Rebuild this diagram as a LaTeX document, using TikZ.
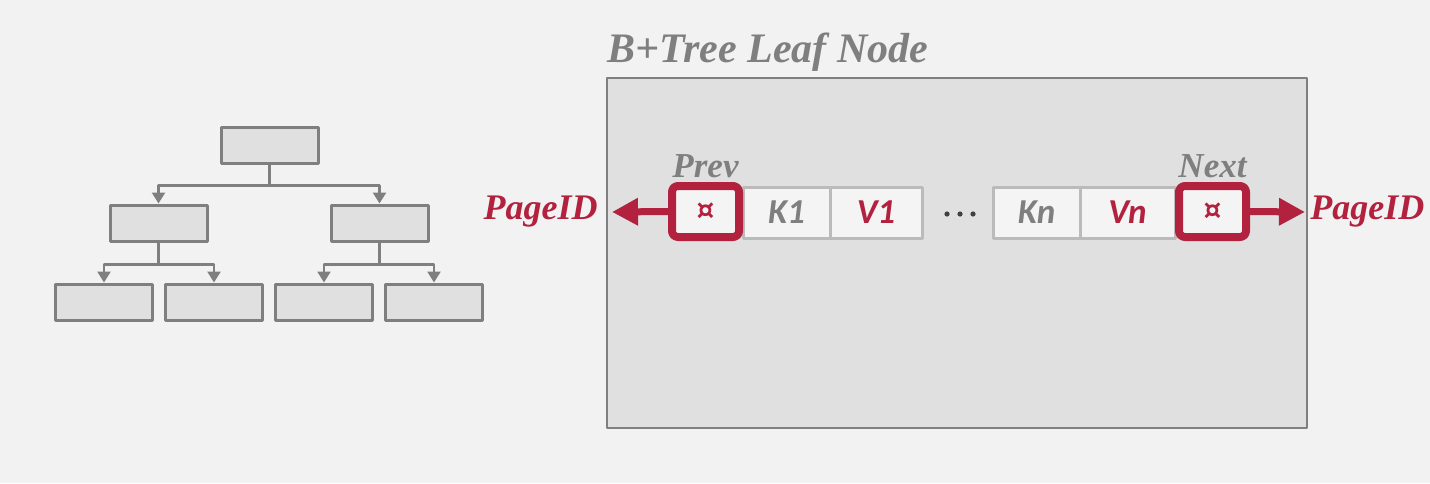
\documentclass[tikz,border=0pt]{standalone}
\usepackage{fontspec}
\setmainfont{Liberation Serif}
\newfontfamily\cellfont{Carlito}
\newfontfamily\symfont{DejaVu Sans}
\usetikzlibrary{arrows.meta}
\definecolor{bg}{HTML}{F2F2F2}
\definecolor{boxfill}{HTML}{E0E0E0}
\definecolor{cellfill}{HTML}{F4F4F4}
\definecolor{lgray}{HTML}{7F7F7F}
\definecolor{cellgray}{HTML}{BBBBBB}
\definecolor{dotgray}{HTML}{404040}
\definecolor{dbred}{HTML}{B2223F}
\tikzset{
  tbox/.style={draw=lgray, fill=boxfill, line width=1.5pt, minimum width=48.5pt, minimum height=18pt, inner sep=0pt},
  tline/.style={draw=lgray, line width=1.2pt, -{Triangle[width=6.5pt,length=5.5pt]}},
  cell/.style={draw=cellgray, fill=cellfill, line width=1.5pt, minimum height=25.5pt, inner sep=0pt, font=\cellfont\bfseries\itshape\fontsize{17.5}{20}\selectfont},
  ptrbox/.style={draw=dbred, fill=cellfill, line width=4pt, rounded corners=3pt, minimum width=33.5pt, minimum height=25.5pt, inner sep=0pt, text=dbred, font=\symfont\bfseries\fontsize{14}{15}\selectfont},
  ptrarrow/.style={draw=dbred, line width=3.5pt, -{Triangle[width=13pt,length=13pt]}},
  redlabel/.style={text=dbred, inner sep=0pt, font=\bfseries\itshape\fontsize{18}{22}\selectfont},
  graylabel/.style={text=lgray, inner sep=0pt, font=\bfseries\itshape\fontsize{17.5}{20}\selectfont}
}
\begin{document}
\begin{tikzpicture}[x=0.5pt, y=-0.5pt, line join=round]
  % background
  \fill[bg] (0,0) rectangle (1430,483);

  % small b+tree
  \node[tbox] (root) at (269.5,145) {};
  \node[tbox] (ml) at (158.5,223) {};
  \node[tbox] (mr) at (379.5,223) {};
  \node[tbox] (l1) at (104,302) {};
  \node[tbox] (l2) at (214,302) {};
  \node[tbox] (l3) at (324,302) {};
  \node[tbox] (l4) at (434,302) {};
  \draw[tline] (root.south) -- ++(0,21) -| (ml.north);
  \draw[tline] (root.south) -- ++(0,21) -| (mr.north);
  \draw[tline] (ml.south) -- ++(0,22) -| (l1.north);
  \draw[tline] (ml.south) -- ++(0,22) -| (l2.north);
  \draw[tline] (mr.south) -- ++(0,22) -| (l3.north);
  \draw[tline] (mr.south) -- ++(0,22) -| (l4.north);

  % leaf node
  \node[draw=lgray, fill=boxfill, line width=1pt, minimum width=350pt, minimum height=175pt, inner sep=0pt] (leaf) at (957,253) {};
  \node[anchor=base west, text=lgray, inner sep=0pt, font=\bfseries\itshape\fontsize{21}{25}\selectfont] (title) at (607,62) {B+Tree Leaf Node};

  \node[cell, minimum width=43.5pt, text=lgray] (k1) at (786.5,212.5) {K1};
  \node[cell, minimum width=46pt, text=dbred] (v1) at (876,212.5) {V1};
  \node[cell, minimum width=43.5pt, text=lgray] (kn) at (1036.5,212.5) {Kn};
  \node[cell, minimum width=47.5pt, text=dbred] (vn) at (1127.5,212.5) {Vn};
  \foreach \d in {947,960,973}
    \fill[dotgray] (\d,214) circle (2.6);

  \node[ptrbox] (prev) at (705.5,211.5) {¤};
  \node[ptrbox] (next) at (1212.5,211.5) {¤};
  \node[graylabel, anchor=base] (prevlbl) at (705.5,177) {Prev};
  \node[graylabel, anchor=base] (nextlbl) at (1212.5,177) {Next};

  \coordinate (ltip) at (612,212);
  \coordinate (rtip) at (1305,212);
  \draw[ptrarrow] (prev.west) -- (ltip);
  \draw[ptrarrow] (next.east) -- (rtip);
  \node[redlabel, anchor=east] (lpage) at (598,212) {PageID};
  \node[redlabel, anchor=west] (rpage) at (1310,212) {PageID};
\end{tikzpicture}
\end{document}
